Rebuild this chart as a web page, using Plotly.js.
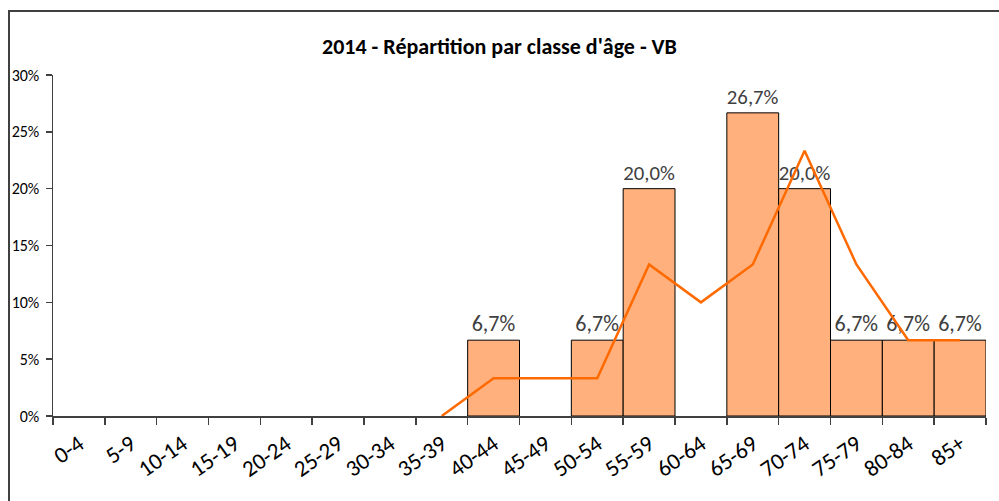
<!DOCTYPE html>
<html>
<head>
<meta charset="utf-8">
<script src="https://cdn.plot.ly/plotly-3.0.1.min.js"></script>
<style>
html,body{margin:0;padding:0;background:#fff;}
#wrap{position:relative;width:999px;height:501px;overflow:hidden;}
#chart{position:absolute;left:0;top:0;width:999px;height:501px;}
#frame{position:absolute;left:8px;top:10px;width:1100px;height:600px;border-left:2px solid #404040;border-top:2px solid #404040;pointer-events:none;}
</style>
</head>
<body>
<div id="wrap"><div id="chart"></div><div id="frame"></div></div>
<script>
const categories = ["0-4","5-9","10-14","15-19","20-24","25-29","30-34","35-39","40-44","45-49","50-54","55-59","60-64","65-69","70-74","75-79","80-84","85+"];
const barValues = [null,null,null,null,null,null,null,null,6.67,null,6.67,20.0,null,26.67,20.0,6.67,6.67,6.67];
const lineValues = [null,null,null,null,null,null,null,0,3.33,3.33,3.33,13.33,10.0,13.33,23.33,13.33,6.67,6.67];
const yTickVals = [0,5,10,15,20,25,30];
const yTickText = ["0%","5%","10%","15%","20%","25%","30%"];
const titleText = "2014 - Répartition par classe d'âge - VB";

const barLabels = barValues.map(v => v == null ? "" : v.toFixed(1).replace(".", ",") + "%");
const font = "Carlito, Calibri, 'Noto Sans', sans-serif";

const traces = [
  {
    type: "bar",
    x: categories,
    y: barValues,
    text: barLabels,
    textposition: "outside",
    textfont: {family: font, size: 22, color: "#404040"},
    cliponaxis: false,
    marker: {color: "#FFB07C", line: {color: "#000000", width: 1}},
    hoverinfo: "x+y"
  },
  {
    type: "scatter",
    mode: "lines",
    x: categories,
    y: lineValues,
    line: {color: "#FF6A00", width: 2.5},
    connectgaps: false,
    hoverinfo: "x+y"
  }
];

const layout = {
  width: 999,
  height: 501,
  margin: {l: 53, r: 13, t: 75, b: 85},
  paper_bgcolor: "#ffffff",
  plot_bgcolor: "#ffffff",
  showlegend: false,
  bargap: 0,
  title: {
    text: "<b>" + titleText + "</b>",
    font: {family: font, size: 22, color: "#000000"},
    x: 0.5, xref: "container", xanchor: "center",
    y: 1 - 46/501, yref: "container", yanchor: "middle"
  },
  xaxis: {
    type: "category",
    range: [-0.5, 17.5],
    showgrid: false,
    showline: true,
    linecolor: "#404040",
    linewidth: 1.5,
    ticks: "outside",
    tickson: "boundaries",
    ticklen: 7,
    tickcolor: "#404040",
    tickwidth: 1.5,
    tickangle: -35,
    ticklabelstandoff: 4,
    tickfont: {family: font, size: 23, color: "#000000"},
    zeroline: false,
    fixedrange: true
  },
  yaxis: {
    range: [0, 30],
    tickvals: yTickVals,
    ticktext: yTickText,
    showgrid: false,
    showline: true,
    linecolor: "#404040",
    linewidth: 1.5,
    ticks: "outside",
    ticklen: 6,
    tickcolor: "#404040",
    tickwidth: 1.5,
    ticklabelstandoff: 3,
    tickfont: {family: font, size: 16, color: "#000000"},
    zeroline: false,
    fixedrange: true
  }
};

Plotly.newPlot("chart", traces, layout, {displayModeBar: false, staticPlot: true});
</script>
</body>
</html>
